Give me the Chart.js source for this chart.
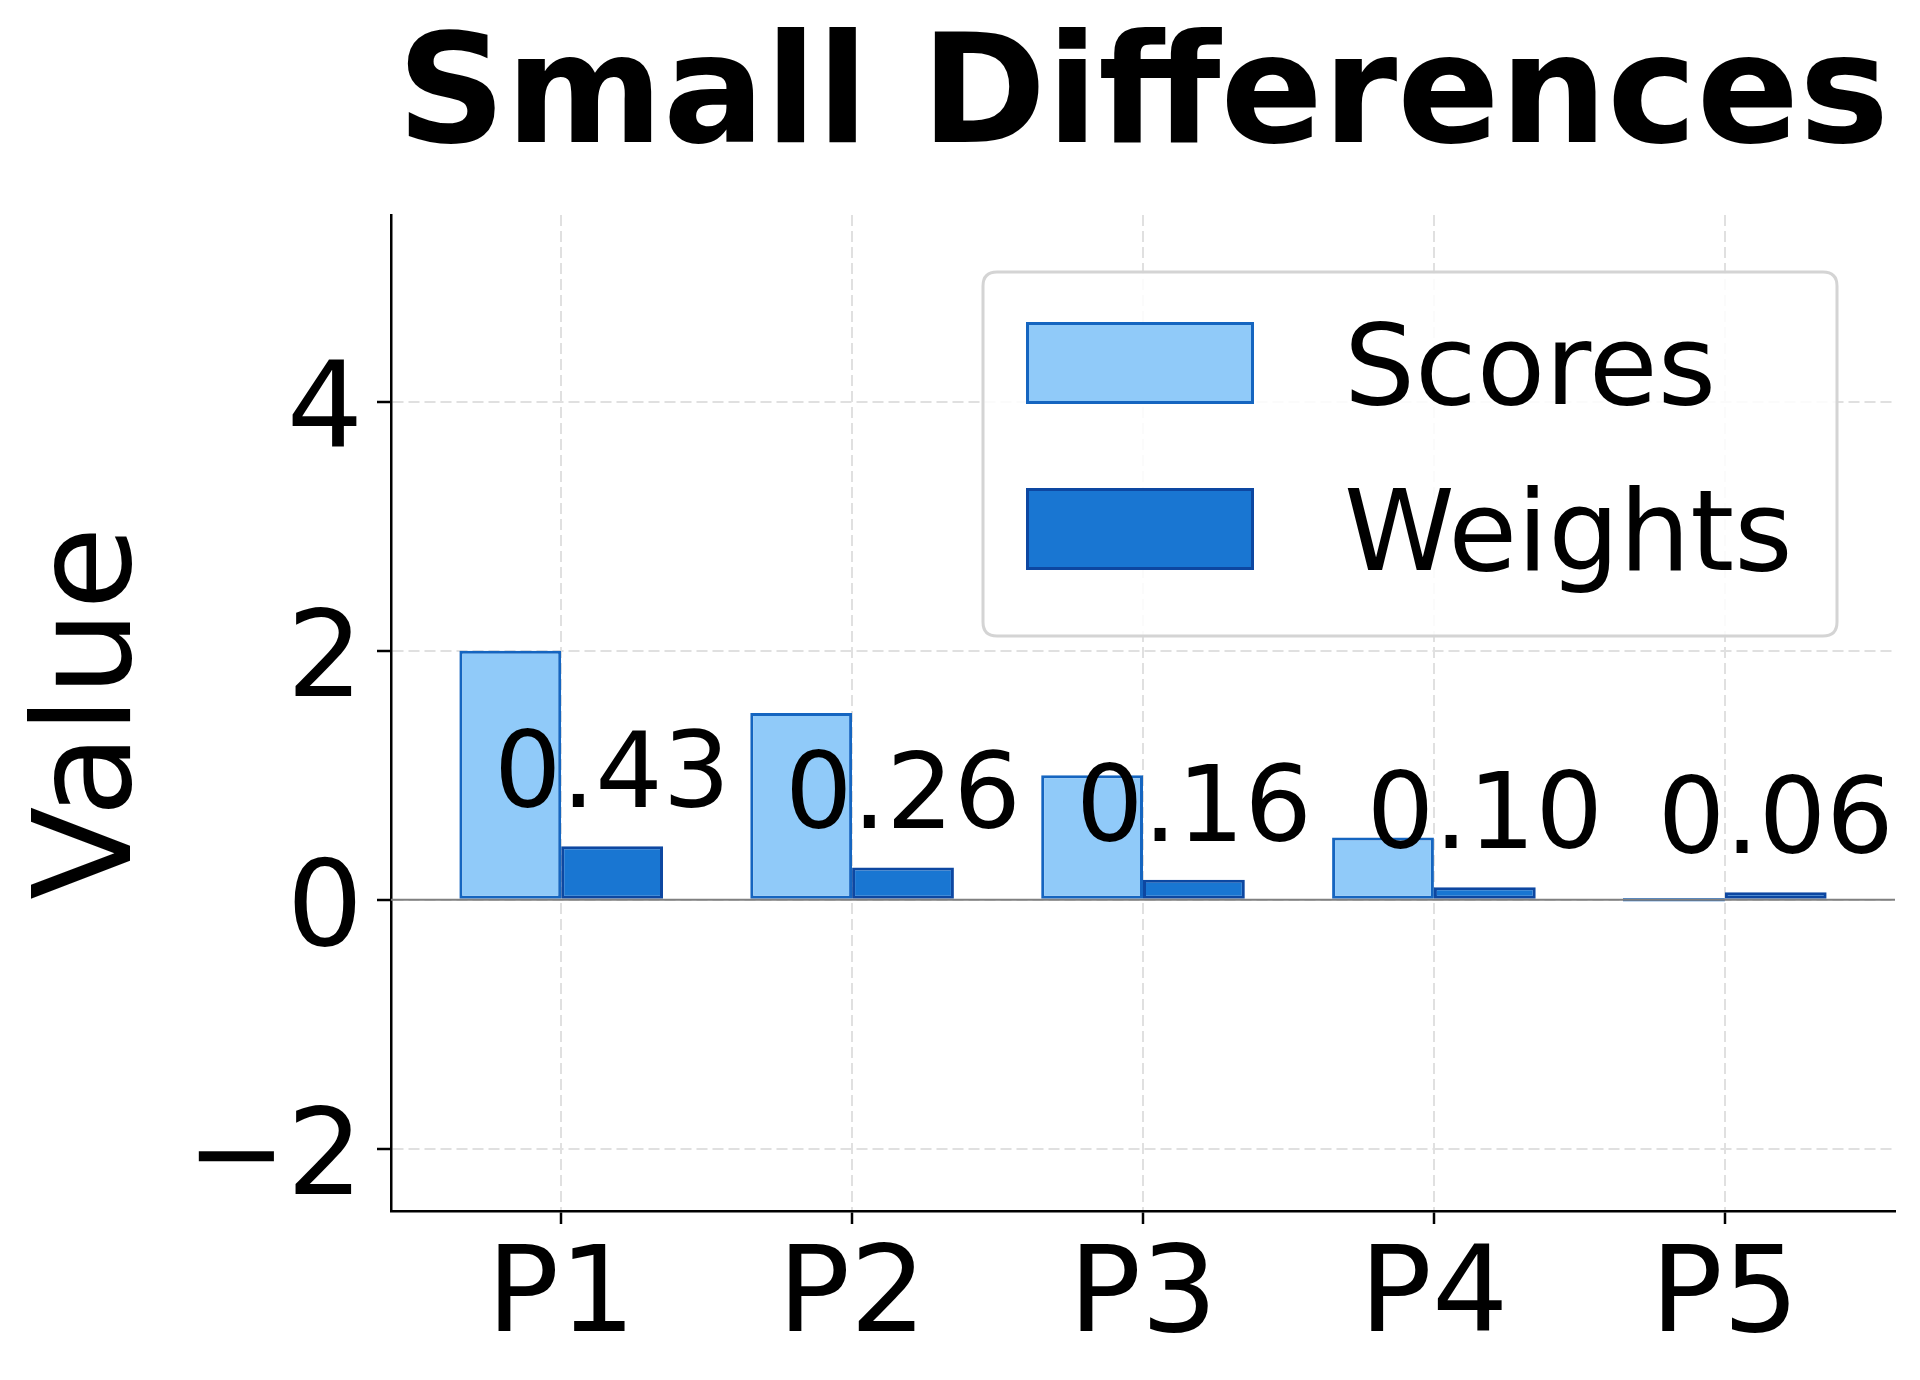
<!DOCTYPE html>
<html>
<head>
<meta charset="utf-8">
<style>
  html, body { margin: 0; padding: 0; background: #ffffff; }
  #wrap { width: 1920px; height: 1380px; }
  canvas { display: block; }
</style>
<script src="https://cdn.jsdelivr.net/npm/chart.js@4/dist/chart.umd.min.js"></script>
</head>
<body>
<div id="wrap"><canvas id="c" width="1920" height="1380"></canvas></div>
<script>
// ---- data ----
const chartTitle = 'Small Differences';
const yAxisLabel = 'Value';
const categories = ['P1', 'P2', 'P3', 'P4', 'P5'];
const seriesNames = ['Scores', 'Weights'];
const scores = [2.0, 1.5, 1.0, 0.5, 0.0];
const weights = [0.43, 0.26, 0.16, 0.10, 0.06];
const yTicks = [-2, 0, 2, 4];
const yRange = [-2.5, 5.5];
const xRange = [-0.585, 4.585];

// ---- styles ----
const FONT = "'DejaVu Sans', 'Liberation Sans', sans-serif";
const fills = ['#90CAF9', '#1976D2'];
const edges = ['#1565C0', '#0D47A1'];
const GRID = '#e0e0e0';

const toPoints = vals => vals.map((v, i) => ({ x: i, y: v }));

const decor = {
  id: 'decor',
  afterDatasetsDraw(chart) {
    const { ctx, chartArea: ca, scales } = chart;
    const y0 = scales.y.getPixelForValue(0);
    ctx.save();
    // edge lines for zero-height bars
    chart.data.datasets.forEach((ds, di) => {
      const meta = chart.getDatasetMeta(di);
      meta.data.forEach((bar, i) => {
        if (ds.data[i].y === 0) {
          ctx.strokeStyle = ds.borderColor;
          ctx.lineWidth = 3;
          ctx.beginPath();
          ctx.moveTo(bar.x - bar.width / 2, y0);
          ctx.lineTo(bar.x + bar.width / 2, y0);
          ctx.stroke();
        }
      });
    });
    ctx.strokeStyle = '#808080';
    ctx.lineWidth = 1.8;
    ctx.beginPath();
    ctx.moveTo(ca.left, y0);
    ctx.lineTo(ca.right, y0);
    ctx.stroke();
    // value labels on weights
    const meta = chart.getDatasetMeta(1);
    ctx.fillStyle = '#000';
    ctx.font = `106px ${FONT}`;
    ctx.textAlign = 'center';
    ctx.textBaseline = 'alphabetic';
    meta.data.forEach((bar, i) => {
      ctx.fillText(weights[i].toFixed(2), bar.x, bar.y - 39);
    });
    ctx.restore();
  },
  afterDraw(chart) {
    const { ctx, chartArea: ca } = chart;
    ctx.save();
    // title
    ctx.fillStyle = '#000';
    ctx.font = `bold 151px ${FONT}`;
    ctx.textAlign = 'center';
    ctx.textBaseline = 'alphabetic';
    ctx.fillText(chartTitle, (ca.left + ca.right) / 2, 142);
    // y label
    ctx.save();
    ctx.translate(130, (ca.top + ca.bottom) / 2);
    ctx.rotate(-Math.PI / 2);
    ctx.font = `136px ${FONT}`;
    ctx.fillText(yAxisLabel, 0, 0);
    ctx.restore();
    // legend
    const bx = ca.right - 912, by = ca.top + 57, bw = 854, bh = 364, r = 14;
    ctx.beginPath();
    ctx.moveTo(bx + r, by);
    ctx.lineTo(bx + bw - r, by);
    ctx.quadraticCurveTo(bx + bw, by, bx + bw, by + r);
    ctx.lineTo(bx + bw, by + bh - r);
    ctx.quadraticCurveTo(bx + bw, by + bh, bx + bw - r, by + bh);
    ctx.lineTo(bx + r, by + bh);
    ctx.quadraticCurveTo(bx, by + bh, bx, by + bh - r);
    ctx.lineTo(bx, by + r);
    ctx.quadraticCurveTo(bx, by, bx + r, by);
    ctx.closePath();
    ctx.fillStyle = 'rgba(255,255,255,0.85)';
    ctx.fill();
    ctx.strokeStyle = '#d4d4d4';
    ctx.lineWidth = 3;
    ctx.stroke();
    const rows = [by + 50, by + 216];
    chart.data.datasets.forEach((ds, i) => {
      const sx = bx + 43, sy = rows[i], sw = 228, sh = 82;
      ctx.fillStyle = ds.backgroundColor;
      ctx.fillRect(sx, sy, sw, sh);
      ctx.strokeStyle = ds.borderColor;
      ctx.lineWidth = 3;
      ctx.strokeRect(sx + 1.5, sy + 1.5, sw - 3, sh - 3);
      ctx.fillStyle = '#000';
      ctx.font = `112px ${FONT}`;
      ctx.textAlign = 'left';
      ctx.textBaseline = 'alphabetic';
      ctx.fillText(ds.label, bx + 361, sy + 82);
    });
    ctx.restore();
  }
};

new Chart(document.getElementById('c'), {
  type: 'bar',
  data: {
    datasets: [
      { label: seriesNames[0], data: toPoints(scores), backgroundColor: fills[0], borderColor: edges[0], borderWidth: 3, borderSkipped: false },
      { label: seriesNames[1], data: toPoints(weights), backgroundColor: fills[1], borderColor: edges[1], borderWidth: 3, borderSkipped: false }
    ]
  },
  options: {
    responsive: false,
    animation: false,
    events: [],
    layout: { padding: { top: 215, right: 25, left: 0, bottom: 0 } },
    datasets: { bar: { categoryPercentage: 0.7, barPercentage: 1.0, grouped: true } },
    plugins: { legend: { display: false }, title: { display: false }, tooltip: { enabled: false } },
    scales: {
      x: {
        type: 'linear',
        offset: false,
        min: xRange[0], max: xRange[1],
        afterBuildTicks: s => { s.ticks = categories.map((c, i) => ({ value: i })); },
        afterFit: s => { s.height = 169; },
        ticks: {
          callback: v => categories[v] ?? '',
          font: { family: FONT, size: 120 },
          color: '#000',
          padding: 4,
          maxRotation: 0, autoSkip: false
        },
        grid: { offset: false, color: GRID, lineWidth: 2, drawTicks: true, tickLength: 13, tickColor: '#000', tickWidth: 2.5 },
        border: { display: true, color: '#000', width: 2.5, dash: [11, 5] }
      },
      y: {
        type: 'linear',
        min: yRange[0], max: yRange[1],
        afterBuildTicks: s => { s.ticks = yTicks.map(v => ({ value: v })); },
        afterFit: s => { s.width = 391; },
        ticks: {
          callback: v => String(v).replace('-', '\u2212'),
          font: { family: FONT, size: 120 },
          color: '#000',
          padding: 14,
          labelOffset: 14
        },
        grid: { color: GRID, lineWidth: 2, drawTicks: true, tickLength: 14, tickColor: '#000', tickWidth: 2.5 },
        border: { display: true, color: '#000', width: 2.5, dash: [11, 5] }
      }
    }
  },
  plugins: [decor]
});
</script>
</body>
</html>
